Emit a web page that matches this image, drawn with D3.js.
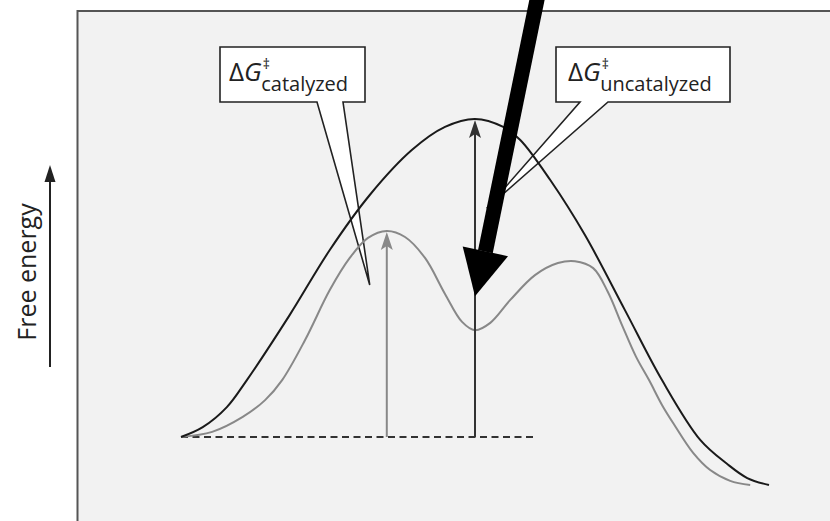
<!DOCTYPE html>
<html><head><meta charset="utf-8">
<script src="https://cdn.jsdelivr.net/npm/d3@7"></script>
<style>body{margin:0;background:#fff}svg{display:block}</style></head>
<body><svg id="c" width="830" height="521"></svg>
<script>
// Reaction coordinate (0..100) and free energy (0 = reactants, 100 = uncatalyzed TS)
const uncatX = [0, 3.7, 7.8, 11.2, 18.5, 25.3, 32.1, 39.3, 44.9, 50, 54.8, 57.7, 62.8, 68.7, 75.5, 81.8, 88.3, 92.9, 96.3, 100];
const uncatY = [0, 3.1, 9.4, 17.9, 38.4, 58.8, 76.1, 90.3, 97.5, 100, 97.5, 93.4, 80.8, 63.5, 39.9, 17.9, -0.9, -8.5, -12.9, -15.1];
const catX = [0, 5.3, 10.5, 14.3, 17.2, 21.1, 25.3, 28.7, 31.8, 35.0, 38.1, 41.5, 44.9, 47.8, 50.0, 52.6, 56.0, 60.2, 64.1, 67.0, 70.1, 72.6, 75.0, 77.4, 79.6, 81.8, 83.7, 87.1, 90.0, 93.4, 96.8];
const catY = [0, 1.6, 6.3, 11.6, 17.9, 30.5, 46.2, 56.3, 62.6, 64.8, 62.9, 56.3, 45.0, 36.2, 33.6, 35.9, 43.1, 50.9, 54.7, 55.3, 53.1, 45.6, 35.2, 25.2, 17.9, 10.1, 4.4, -5.0, -10.4, -13.8, -15.1];
const baselineX = [0, 60.3];          // dashed reactant level
const catTS = {x: 35.0, y: 64.8};     // catalyzed barrier arrow
const uncatTS = {x: 50.0, y: 100};    // uncatalyzed barrier arrow
const labels = ["catalyzed", "uncatalyzed"];
const yLabel = "Free energy";

const svg = d3.select("#c");
const x = d3.scaleLinear().domain([0, 100]).range([181, 769]);
const y = d3.scaleLinear().domain([0, 100]).range([437, 119]);

// panel
svg.append("rect").attr("x", 77.5).attr("y", 11).attr("width", 780).attr("height", 540)
  .attr("fill", "#f2f2f2").attr("stroke", "#555").attr("stroke-width", 2);

// y label + arrow
svg.append("text").attr("transform", "translate(36,272) rotate(-90)")
  .attr("text-anchor", "middle").attr("font-family", "Open Sans").attr("font-size", 25)
  .attr("fill", "#222").text(yLabel);
svg.append("line").attr("x1", 50).attr("x2", 50).attr("y1", 367).attr("y2", 178)
  .attr("stroke", "#222").attr("stroke-width", 2);
svg.append("path").attr("d", "M50,165 L55.5,182 L44.5,182 Z").attr("fill", "#222");

// callouts
function callout(x0, y0, x1, y1, b1, b2, tx, ty) {
  return `M${x0},${y0} H${x1} V${y1} H${b2} L${tx},${ty} L${b1},${y1} H${x0} Z`;
}
svg.append("path").attr("d", callout(220, 47, 365, 102, 317, 343, x(32.1), y(47.8)))
  .attr("fill", "#fff").attr("stroke", "#222").attr("stroke-width", 1.6);
svg.append("path").attr("d", callout(556, 47, 730, 102, 580, 608, x(52.0), y(71.9)))
  .attr("fill", "#fff").attr("stroke", "#222").attr("stroke-width", 1.6);

function dgText(tx, ty, sub) {
  const g = svg.append("g").attr("font-family", "Open Sans").attr("fill", "#222");
  const t = g.append("text").attr("x", tx).attr("y", ty);
  t.append("tspan").attr("font-size", 26).text("Δ");
  t.append("tspan").attr("font-size", 26).attr("font-style", "italic").text("G");
  const w = t.node().getComputedTextLength();
  g.append("text").attr("x", tx + w + 1).attr("y", ty - 12).attr("font-size", 14).text("‡");
  g.append("text").attr("x", tx + w - 0.5).attr("y", ty + 10).attr("font-size", 20).text(sub);
}
dgText(229, 81, labels[0]);
dgText(568, 81, labels[1]);

// dashed baseline
svg.append("line").attr("x1", x(baselineX[0])).attr("x2", x(baselineX[1]))
  .attr("y1", y(0)).attr("y2", y(0))
  .attr("stroke", "#333").attr("stroke-width", 2).attr("stroke-dasharray", "7,4.5");

// curves
const line = d3.line().x(d => x(d[0])).y(d => y(d[1])).curve(d3.curveCatmullRom.alpha(0.5));
svg.append("path").attr("d", line(d3.zip(catX, catY))).attr("fill", "none")
  .attr("stroke", "#888").attr("stroke-width", 2);
svg.append("path").attr("d", line(d3.zip(uncatX, uncatY))).attr("fill", "none")
  .attr("stroke", "#1a1a1a").attr("stroke-width", 2);

// vertical barrier arrows
function vArrow(ts, color) {
  const px = x(ts.x), top = y(ts.y) + 1;
  svg.append("line").attr("x1", px).attr("x2", px).attr("y1", y(0)).attr("y2", top + 12)
    .attr("stroke", color).attr("stroke-width", 2);
  svg.append("path").attr("d", `M${px},${top} L${px + 6},${top + 18} L${px},${top + 14} L${px - 6},${top + 18} Z`)
    .attr("fill", color);
}
vArrow(catTS, "#888");
vArrow(uncatTS, "#333");

// big black arrow
const tip = [x(50), y(44.3)];
svg.append("line").attr("x1", 539).attr("y1", -10).attr("x2", tip[0] + 10.4).attr("y2", tip[1] - 44.5)
  .attr("stroke", "#000").attr("stroke-width", 15);
svg.append("path").attr("d", `M${tip[0]},${tip[1]} L${tip[0] - 12.3},${tip[1] - 49.7} L${tip[0] + 33},${tip[1] - 40} Z`)
  .attr("fill", "#000");
</script></body></html>
